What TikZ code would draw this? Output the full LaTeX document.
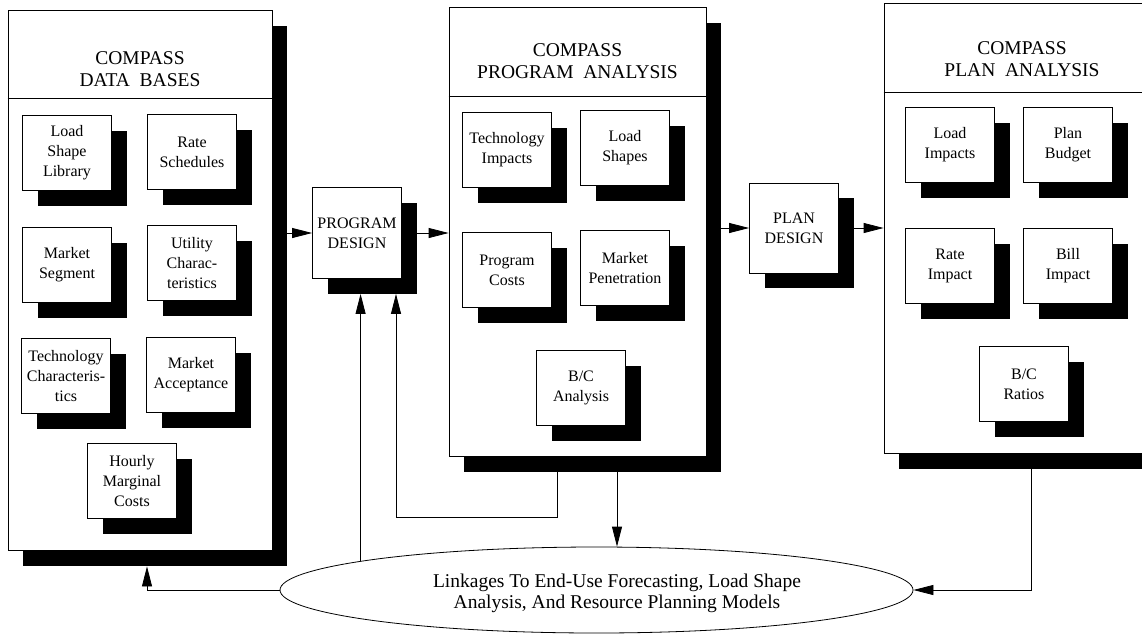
\documentclass[tikz,border=0pt]{standalone}
\usepackage{fontspec}
\setmainfont{Liberation Serif}
\usetikzlibrary{calc}
\usetikzlibrary{arrows.meta}
\usetikzlibrary{shapes.geometric}
\usetikzlibrary{shadows}

\tikzset{
  panel/.style={draw, fill=white, inner sep=0pt,
    drop shadow={fill=black, opacity=1, shadow xshift=15pt, shadow yshift=-16pt}},
  sbox/.style={draw, fill=white, inner sep=0pt, minimum width=89pt, minimum height=75pt,
    align=center, font=\fontsize{16}{20}\selectfont,
    drop shadow={fill=black, opacity=1, shadow xshift=15pt, shadow yshift=-15pt}},
  hdr/.style={align=center, font=\fontsize{19.5}{22}\selectfont},
}

\begin{document}
\begin{tikzpicture}[x=1pt, y=-1pt, line width=.8pt, >={Triangle[length=20pt,width=10pt]}]
\useasboundingbox (0,0) rectangle (1142,635);
\clip (0,0) rectangle (1142,635);
% the three panels
\node[panel, minimum width=264pt, minimum height=540pt] (db) at (140,280) {};
\node[panel, minimum width=257pt, minimum height=449pt] (pa) at (577.5,231.5) {};
\node[panel, minimum width=266pt, minimum height=450pt] (pl) at (1017,228) {};
\draw ([yshift=-89pt]db.north west) -- ([yshift=-89pt]db.north east);
\draw ([yshift=-90pt]pa.north west) -- ([yshift=-90pt]pa.north east);
\draw ([yshift=-90pt]pl.north west) -- ([yshift=-90pt]pl.north east);
\node[hdr] (dbh) at ([yshift=-60pt]db.north) {COMPASS\\DATA\enspace BASES};
\node[hdr] (pah) at ([yshift=-55pt]pa.north) {COMPASS\\PROGRAM\enspace ANALYSIS};
\node[hdr] (plh) at ([xshift=5pt,yshift=-57pt]pl.north) {COMPASS\\PLAN\enspace ANALYSIS};
% boxes inside the panels
\foreach \x/\y/\n/\t in {67/153/lsl/{Load\\Shape\\Library}, 192/152/rs/{Rate\\Schedules},
  67/265/ms/{Market\\Segment}, 192/263/uc/{Utility\\Charac-\\teristics},
  66/376/tc/{Technology\\Characteris-\\tics}, 191/375/ma/{Market\\Acceptance},
  132/481/hmc/{Hourly\\Marginal\\Costs},
  507/150/ti/{Technology\\Impacts}, 625/148/ls/{Load\\Shapes},
  507/270/pc/{Program\\Costs}, 625/268/mp/{Market\\Penetration},
  581/388/bca/{B/C\\Analysis},
  950/145/li/{Load\\Impacts}, 1068/145/pb/{Plan\\Budget},
  950/266/ri/{Rate\\Impact}, 1068/266/bi/{Bill\\Impact},
  1024/384/bcr/{B/C\\Ratios}}
  \node[sbox] (\n) at (\x,\y) {\t};
% design steps
\node[sbox, minimum height=91pt] (pd) at (357,233) {PROGRAM\\DESIGN};
\node[sbox, minimum height=90pt] (pld) at (794,228) {PLAN\\DESIGN};
% linkages
\node[draw, ellipse, fill=white, inner sep=0pt, minimum width=633pt, minimum height=86pt] (link) at (596.5,590) {};
\node[align=center, font=\fontsize{19.5}{21}\selectfont] (linktxt) at (617,593)
  {Linkages To End-Use Forecasting, Load Shape\\Analysis, And Resource Planning Models};
% flow
\draw[->] ([xshift=15pt]db.east |- pd.west) -- (pd.west);
\draw[->] ([xshift=15pt]pd.east) -- (pd.east -| pa.west);
\draw[->] ([xshift=15pt]pa.east |- pld.west) -- (pld.west);
\draw[->] ([xshift=15pt]pld.east) -- (pld.east -| pl.west);
\draw[->] ([xshift=-20pt,yshift=-16pt]pa.south) -- ++(0,45) -| ([xshift=39pt,yshift=-15pt]pd.south);
\draw[->] ([xshift=39.5pt,yshift=-16pt]pa.south) -- ([xshift=39.5pt]pa.south |- link.north);
\draw[->] (link.173.7) -- ([yshift=-15pt]pd.south -| link.173.7);
\draw[->] (link.west) -| ([xshift=7pt,yshift=-16pt]db.south);
\draw[->] ([xshift=14pt,yshift=-14pt]pl.south) |- (link.east);
\end{tikzpicture}
\end{document}
